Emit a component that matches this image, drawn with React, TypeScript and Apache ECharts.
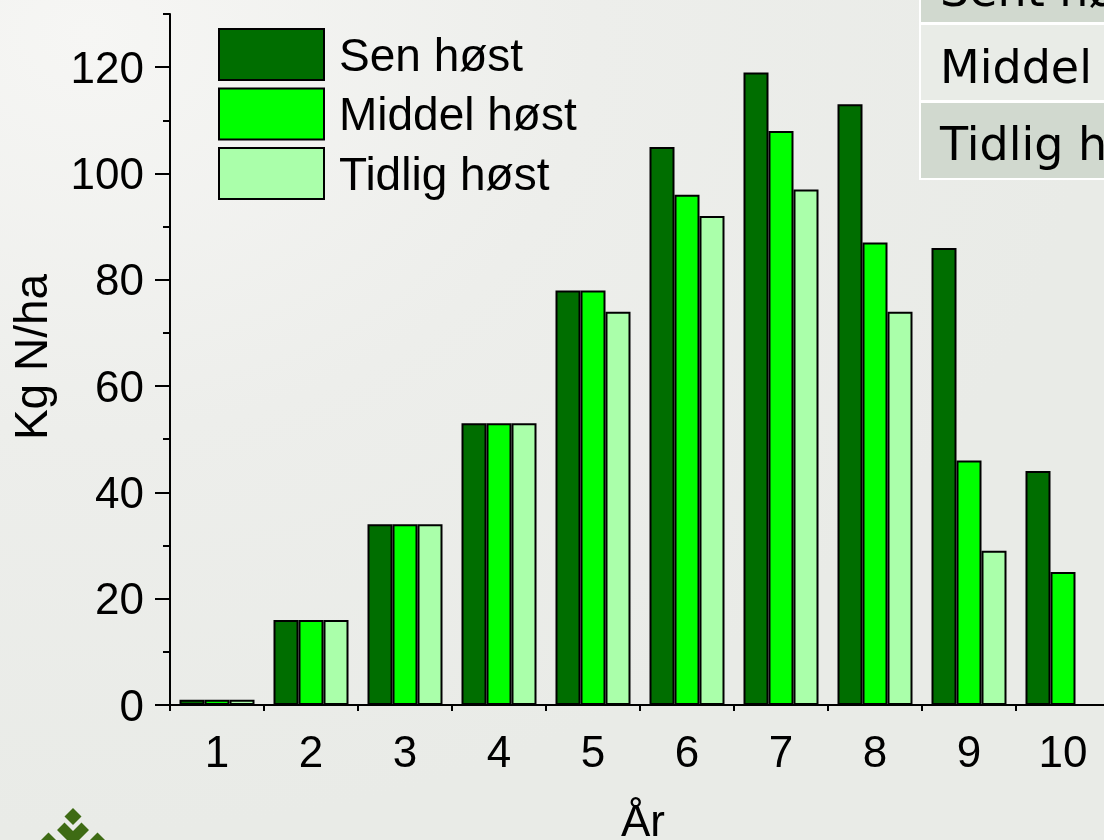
import React, { useEffect, useRef } from "react";
import * as echarts from "echarts";

const years = ["1", "2", "3", "4", "5", "6", "7", "8", "9", "10"];
const senHost = [1, 16, 34, 53, 78, 105, 119, 113, 86, 44];
const middelHost = [1, 16, 34, 53, 78, 96, 108, 87, 46, 25];
const tidligHost: (number | null)[] = [1, 16, 34, 53, 74, 92, 97, 74, 29, null];
const yTickValues = [0, 20, 40, 60, 80, 100, 120];
const seriesNames = ["Sen høst", "Middel høst", "Tidlig høst"];
const tableRows = ["Sent høst", "Middel høst", "Tidlig høst"];
const colors = ["#006E00", "#00FF00", "#AAFFAA"];

const FONT = "'Liberation Sans', Arial, sans-serif";

export default function App() {
  const ref = useRef<HTMLDivElement>(null);
  useEffect(() => {
    if (!ref.current) return;
    const chart = echarts.init(ref.current, null, { renderer: "svg" });
    const barStyle = { borderColor: "#000", borderWidth: 2 };
    const values = [senHost, middelHost, tidligHost];
    chart.setOption({
      animation: false,
      backgroundColor: "transparent",
      grid: { left: 170, right: 10, top: 14, bottom: 135, containLabel: false },
      legend: {
        orient: "vertical",
        left: 218,
        top: 28,
        padding: 0,
        itemWidth: 105,
        itemHeight: 51,
        itemGap: 6.5,
        icon: "rect",
        selectedMode: false,
        itemStyle: { borderColor: "#000", borderWidth: 2 },
        textStyle: { fontSize: 46, fontFamily: FONT, color: "#000", padding: [0, 0, 0, 10] },
        data: seriesNames,
      },
      xAxis: [
        {
          type: "category",
          data: years,
          position: "bottom",
          axisLine: { lineStyle: { color: "#000", width: 2 } },
          axisTick: { alignWithLabel: true, length: 12, lineStyle: { color: "#000", width: 2 } },
          axisLabel: { fontSize: 44, fontFamily: FONT, color: "#000", margin: 24 },
          splitLine: { show: false },
        },
        {
          type: "category",
          data: years,
          position: "bottom",
          axisLine: { show: false },
          axisTick: { show: true, alignWithLabel: false, length: 6, lineStyle: { color: "#000", width: 2 } },
          axisLabel: { show: false },
          splitLine: { show: false },
        },
      ],
      yAxis: [
        {
          type: "value",
          min: 0,
          max: 130,
          interval: 10,
          position: "left",
          axisLine: { show: true, lineStyle: { color: "#000", width: 2 } },
          axisTick: { show: true, length: 15, customValues: yTickValues, lineStyle: { color: "#000", width: 2 } },
          axisLabel: { fontSize: 44, fontFamily: FONT, color: "#000", margin: 26, customValues: yTickValues },
          splitLine: { show: false },
        },
        {
          type: "value",
          min: 0,
          max: 130,
          interval: 10,
          position: "left",
          axisLine: { show: false },
          axisTick: { show: true, length: 7, lineStyle: { color: "#000", width: 2 } },
          axisLabel: { show: false },
          splitLine: { show: false },
        },
      ],
      series: seriesNames.map((name, i) => ({
        name,
        type: "bar",
        xAxisIndex: 0,
        yAxisIndex: 0,
        barWidth: 25,
        barGap: "0%",
        data: values[i],
        itemStyle: { color: colors[i], ...barStyle },
      })),
      graphic: [
        {
          type: "group",
          children: [
            { type: "rect", shape: { x: 919, y: -60, width: 300, height: 240 }, style: { fill: "#FFFFFF" } },
            { type: "rect", shape: { x: 921, y: -60, width: 300, height: 82 }, style: { fill: "#D1D9CF" } },
            { type: "rect", shape: { x: 921, y: 25, width: 300, height: 75 }, style: { fill: "#E9ECE7" } },
            { type: "rect", shape: { x: 921, y: 103, width: 300, height: 75 }, style: { fill: "#D1D9CF" } },
            ...tableRows.map((t, i) => ({
              type: "text",
              x: 940,
              y: -10 + i * 77,
              style: {
                text: t,
                font: "46px 'DejaVu Sans', Verdana, sans-serif",
                fill: "#000",
                textAlign: "left",
                textVerticalAlign: "middle",
                align: "left",
                verticalAlign: "middle",
              },
            })),
          ],
        },
        {
          type: "text",
          x: 31,
          y: 357,
          rotation: Math.PI / 2,
          style: {
            text: "Kg N/ha",
            font: `46px ${FONT}`,
            fill: "#000",
            textAlign: "center",
            textVerticalAlign: "middle",
            align: "center",
            verticalAlign: "middle",
          },
        },
        {
          type: "text",
          x: 643,
          y: 820,
          style: {
            text: "År",
            font: `44px ${FONT}`,
            fill: "#000",
            textAlign: "center",
            textVerticalAlign: "middle",
            align: "center",
            verticalAlign: "middle",
          },
        },
        {
          type: "group",
          children: [
            { type: "polygon", shape: { points: [[73, 808], [81.5, 816.5], [73, 825], [64.5, 816.5]] }, style: { fill: "#3E6B14" } },
            { type: "polygon", shape: { points: [[64.5, 822.5], [73, 831], [81.5, 822.5], [89, 830], [73, 846], [57, 830]] }, style: { fill: "#3E6B14" } },
            { type: "polygon", shape: { points: [[41, 840], [48.5, 832.5], [56, 840]] }, style: { fill: "#3E6B14" } },
            { type: "polygon", shape: { points: [[90, 840], [97.5, 832.5], [105, 840]] }, style: { fill: "#3E6B14" } },
          ],
        },
      ],
    });
    return () => chart.dispose();
  }, []);
  return (
    <div
      style={{
        position: "fixed",
        left: 0,
        top: 0,
        width: 1104,
        height: 840,
        overflow: "hidden",
        background: "radial-gradient(ellipse at 8% 4%, #F6F6F4 0%, #EDEEEB 35%, #E9EBE7 70%)",
      }}
    >
      <div ref={ref} style={{ width: 1120, height: 840 }} />
    </div>
  );
}
